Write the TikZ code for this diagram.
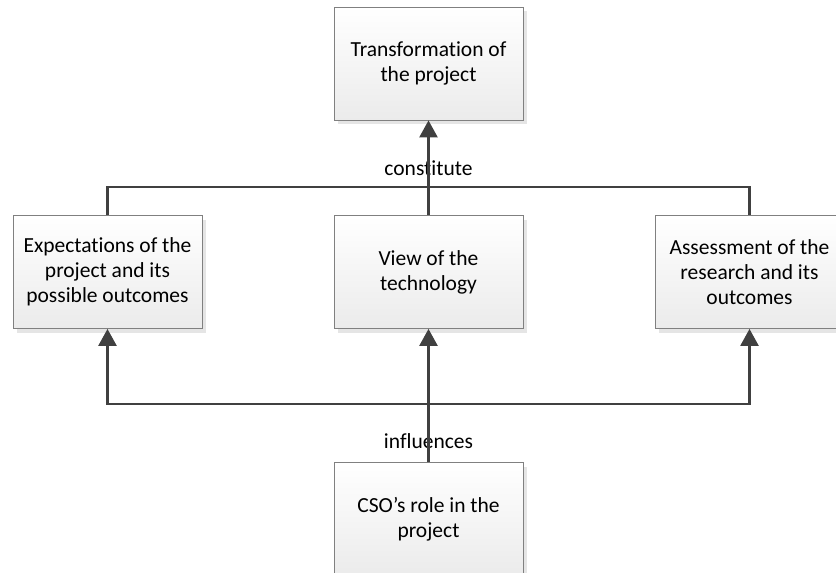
\documentclass[tikz,border=0pt]{standalone}
\usepackage{fontspec}
\setmainfont{Carlito}[Ligatures=NoCommon]
\usetikzlibrary{arrows.meta, shadows}
\definecolor{linegray}{HTML}{404040}
\definecolor{boxedge}{HTML}{808080}
\definecolor{boxlow}{HTML}{EBEBEB}

\begin{document}
\begin{tikzpicture}[x=1pt, y=-1pt,
  box/.style={draw=boxedge, line width=0.8pt, top color=white, bottom color=boxlow,
    minimum width=189pt, minimum height=113pt, inner sep=0pt, align=center,
    font=\fontsize{21.5}{25}\selectfont,
    drop shadow={shadow xshift=4pt, shadow yshift=-4pt, fill=black!10, opacity=1}},
  link/.style={draw=linegray, line width=2.5pt},
  arrow/.style={link, -{Triangle[length=17pt, width=18pt]}},
  lbl/.style={font=\fontsize{21.5}{25}\selectfont, anchor=base}]
\useasboundingbox (0,0) rectangle (836,573);

% Boxes
\node[box] (transf) at (428.5,63.5) {Transformation of\\the project};
\node[box] (expect) at (107.5,272) {Expectations of the\\project and its\\possible outcomes};
\node[box] (view) at (428.5,272) {View of the\\technology};
\node[box] (assess) at (749.5,272) {Assessment of the\\research and its\\outcomes};
\node[box] (cso) at (428.5,519) {CSO’s role in the\\project};

% Labels (under the lines)
\node[lbl] (constlbl) at (428.5,175) {constitute};
\node[lbl] (inflbl) at (428.5,448) {influences};

% Junctions
\coordinate (upjoin) at (428.5,187);
\coordinate (lowjoin) at (428.5,404);

% Upper connectors
\draw[link] (expect.north) |- (upjoin) -| (assess.north);
\draw[arrow] (view.north) -- (transf.south);

% Lower connectors
\draw[arrow] (lowjoin) -| (expect.south);
\draw[arrow] (lowjoin) -| (assess.south);
\draw[arrow] (cso.north) -- (view.south);

\end{tikzpicture}
\end{document}
